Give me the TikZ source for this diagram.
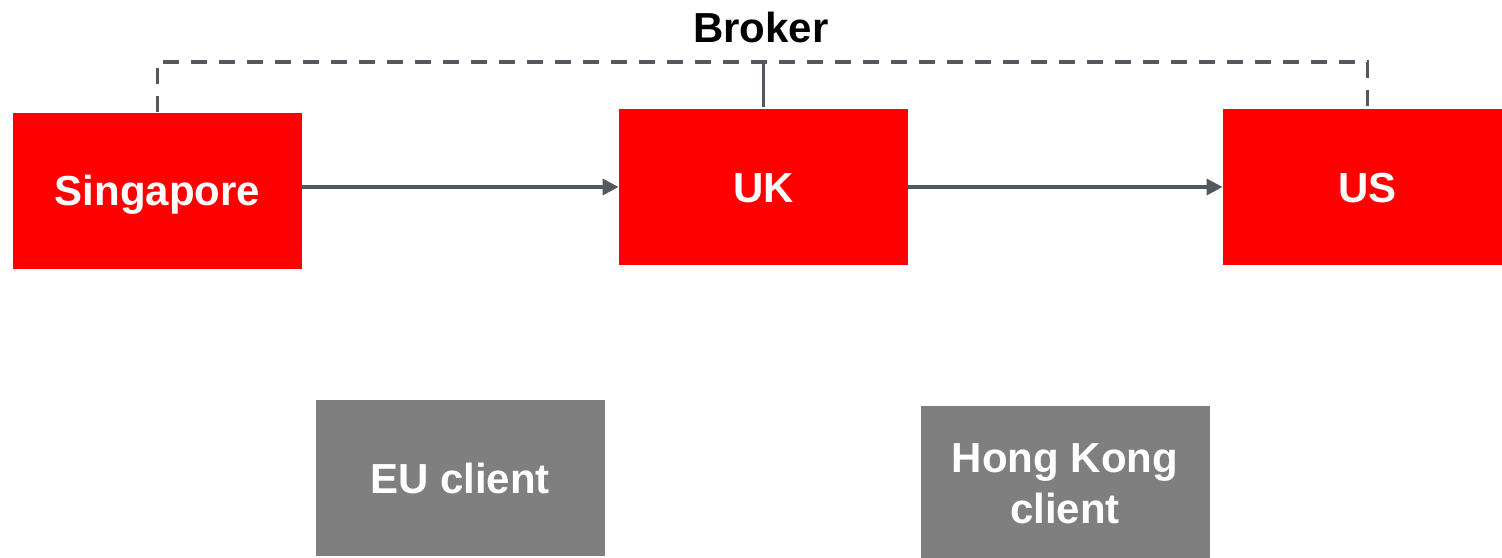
\documentclass[tikz,border=0pt]{standalone}
\usepackage{fontspec}
\setmainfont{Liberation Sans}
\usetikzlibrary{arrows.meta}
\definecolor{boxred}{HTML}{FF0000}
\definecolor{boxgray}{HTML}{7F7F7F}
\definecolor{linegray}{HTML}{53585F}
\begin{document}
\begin{tikzpicture}[x=0.5pt,y=-0.5pt,
  region/.style={fill=boxred, draw=none, minimum width=144.5pt, minimum height=78pt,
    text=white, font=\fontsize{21}{25.5}\selectfont\bfseries, align=center, inner sep=0pt,
    text height=15pt, text depth=0pt},
  client/.style={region, fill=boxgray},
  twoline/.style={text height=, text depth=},
  flow/.style={draw=linegray, line width=1.65pt, -{Triangle[length=8pt,width=8pt]}},
  busline/.style={draw=linegray, line width=1.65pt, dash pattern=on 8pt off 6pt},
  tap/.style={draw=linegray, line width=1.65pt}]
  \useasboundingbox (0,0) rectangle (1502,557);

  % broker label and the shared bus above the regions
  \node[font=\fontsize{21}{23}\selectfont\bfseries, anchor=base, inner sep=0pt] (broker) at (761,42) {Broker};
  \coordinate (bus) at (763.5,62);

  % regional sites
  \node[region] (sg) at (157.5,190.5) {Singapore};
  \node[region] (uk) at (763.5,187) {UK};
  \node[region] (us) at (1367.5,187) {US};

  % clients
  \node[client] (eu) at (460,478) {EU client};
  \node[client, twoline] (hk) at (1065,484) {Hong Kong\\client};

  % broker bus
  \draw[busline] (sg.north) |- (bus) -| (us.north);
  \draw[tap] ([yshift=1pt]uk.north) -- (bus);

  % replication flow
  \draw[flow] (uk.west -| sg.east) -- (uk.west);
  \draw[flow] (uk.east) -- (us.west);
\end{tikzpicture}
\end{document}
